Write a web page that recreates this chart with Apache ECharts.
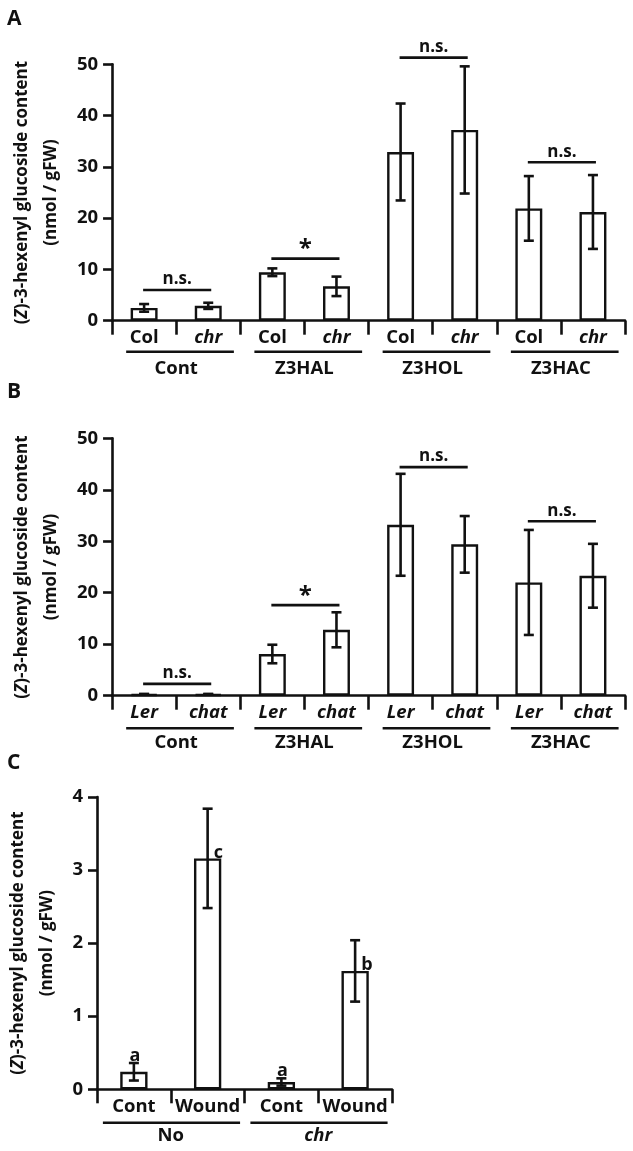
<!DOCTYPE html>
<html>
<head>
<meta charset="utf-8">
<script src="https://cdn.jsdelivr.net/npm/echarts@6/dist/echarts.min.js"></script>
<style>html,body{margin:0;padding:0;background:#fff;}#c{width:633px;height:1151px;}</style>
</head>
<body>
<div id="c"></div>
<script>
// ---------- DATA ----------
const catsA = ['Col', 'chr', 'Col', 'chr', 'Col', 'chr', 'Col', 'chr'];
const groupsA = ['Cont', 'Z3HAL', 'Z3HOL', 'Z3HAC'];
const meanA = [2.5, 2.9, 9.45, 6.7, 32.9, 37.2, 21.9, 21.2];
const errA = [0.75, 0.6, 0.75, 1.9, 9.45, 12.4, 6.3, 7.2];
const sigA = [[0, 1, 6.0], [2, 3, 12.1], [4, 5, 51.3], [6, 7, 30.9]];
const sigTextA = ['n.s.', '*', 'n.s.', 'n.s.'];

const catsB = ['Ler', 'chat', 'Ler', 'chat', 'Ler', 'chat', 'Ler', 'chat'];
const groupsB = ['Cont', 'Z3HAL', 'Z3HOL', 'Z3HAC'];
const meanB = [0.3, 0.3, 8.1, 12.8, 33.2, 29.4, 22.0, 23.3];
const errB = [0.05, 0.05, 1.8, 3.4, 9.9, 5.5, 10.2, 6.2];
const sigB = [[0, 1, 2.3], [2, 3, 17.6], [4, 5, 44.4], [6, 7, 33.9]];
const sigTextB = ['n.s.', '*', 'n.s.', 'n.s.'];

const catsC = ['Cont', 'Wound', 'Cont', 'Wound'];
const groupsC = ['No', 'chr'];
const meanC = [0.24, 3.16, 0.10, 1.62];
const errC = [0.12, 0.68, 0.05, 0.42];
const lettersC = ['a', 'c', 'a', 'b'];

const yTicksAB = [0, 10, 20, 30, 40, 50];
const yTicksC = [0, 1, 2, 3, 4];

const italicWords = new Set(['chr', 'chat', 'Ler']);

// ---------- STYLE ----------
const FONT = '"Open Sans", "Noto Sans", sans-serif';
const INK = '#111';
const TICKFS = 18.5;

function catLabel(v) { return italicWords.has(v) ? '{i|' + v + '}' : v; }
const richI = { i: { fontStyle: 'italic', fontWeight: 'bold', fontSize: TICKFS, fontFamily: FONT, color: INK } };

const grids = [
  { left: 97, top: 64.3, width: 528, height: 256.4 },
  { left: 97, top: 438.3, width: 528, height: 257.4 },
  { left: 97, top: 797, width: 295, height: 292.3 }
];

function mainX(gi, cats) {
  return {
    type: 'category', gridIndex: gi, data: cats, position: 'bottom',
    axisLine: { show: true, lineStyle: { color: INK, width: 2.6 } },
    axisTick: { show: true, length: 14, lineStyle: { color: INK, width: 2.6 } },
    axisLabel: { margin: 8, fontSize: TICKFS, fontWeight: 'bold', fontFamily: FONT, color: INK, formatter: catLabel, rich: richI, interval: 0 },
    splitLine: { show: false }
  };
}
function groupX(gi, groups, margin) {
  return {
    type: 'category', gridIndex: gi, data: groups, position: 'bottom',
    axisLine: { show: false }, axisTick: { show: false },
    axisLabel: { margin: margin, fontSize: TICKFS, fontWeight: 'bold', fontFamily: FONT, color: INK, formatter: catLabel, rich: richI, interval: 0 },
    splitLine: { show: false }
  };
}
function mainY(gi, ticks) {
  return {
    type: 'value', gridIndex: gi, min: ticks[0], max: ticks[ticks.length - 1], interval: ticks[1] - ticks[0],
    axisLine: { show: true, lineStyle: { color: INK, width: 2.6 } },
    axisTick: { show: true, length: 9, lineStyle: { color: INK, width: 2.6 } },
    axisLabel: { margin: 14, fontSize: TICKFS, fontWeight: 'bold', fontFamily: FONT, color: INK },
    splitLine: { show: false },
    name: '({i|Z})-3-hexenyl glucoside content\n(nmol / gFW)',
    nameLocation: 'middle', nameRotate: 90, nameGap: 35,
    nameTextStyle: {
      fontSize: 17, fontWeight: 'bold', fontFamily: FONT, color: INK, lineHeight: 29,
      rich: { i: { fontStyle: 'italic', fontWeight: 'bold', fontSize: 17, fontFamily: FONT, color: INK, lineHeight: 29 } }
    }
  };
}

function barSeries(xi, yi, mean, bw) {
  return {
    type: 'bar', xAxisIndex: xi, yAxisIndex: yi, data: mean, barWidth: bw,
    itemStyle: { color: '#fff', borderColor: INK, borderWidth: 2.4 }, silent: true
  };
}
function errSeries(xi, yi, mean, err) {
  return {
    type: 'custom', xAxisIndex: xi, yAxisIndex: yi, silent: true, z: 5,
    data: mean.map((m, i) => [i, m - err[i], m + err[i]]),
    encode: { x: 0, y: [1, 2] },
    renderItem: function (params, api) {
      const x = api.value(0);
      const lo = api.coord([x, api.value(1)]);
      const hi = api.coord([x, api.value(2)]);
      const w = 5;
      const st = { stroke: INK, lineWidth: 2.6 };
      return {
        type: 'group', children: [
          { type: 'line', shape: { x1: lo[0], y1: lo[1], x2: hi[0], y2: hi[1] }, style: st },
          { type: 'line', shape: { x1: hi[0] - w, y1: hi[1], x2: hi[0] + w, y2: hi[1] }, style: st },
          { type: 'line', shape: { x1: lo[0] - w, y1: lo[1], x2: lo[0] + w, y2: lo[1] }, style: st }
        ]
      };
    }
  };
}
function sigSeries(xi, yi, sig, texts) {
  return {
    type: 'custom', xAxisIndex: xi, yAxisIndex: yi, silent: true, z: 5,
    data: sig,
    encode: { x: [0, 1], y: 2 },
    renderItem: function (params, api) {
      const a = api.coord([api.value(0), api.value(2)]);
      const b = api.coord([api.value(1), api.value(2)]);
      const t = texts[params.dataIndex];
      const star = t === '*';
      return {
        type: 'group', children: [
          { type: 'line', shape: { x1: a[0] - 1, y1: a[1], x2: b[0] + 3, y2: b[1] }, style: { stroke: INK, lineWidth: 2.6 } },
          { type: 'text', style: { text: t, x: (a[0] + b[0]) / 2 + 1, y: a[1] - (star ? -3 : 2), align: 'center', verticalAlign: 'bottom', fontSize: star ? 24 : 17, fontWeight: 'bold', fontFamily: FONT, fill: INK } }
        ]
      };
    }
  };
}
function underlineSeries(xi, yi, nGroups, per, offset, insetL, insetR) {
  const d = [];
  for (let g = 0; g < nGroups; g++) d.push([g * per, g * per + per - 1, 0]);
  return {
    type: 'custom', xAxisIndex: xi, yAxisIndex: yi, silent: true,
    data: d, encode: { x: [0, 1], y: 2 },
    renderItem: function (params, api) {
      const a = api.coord([api.value(0), 0]);
      const b = api.coord([api.value(1), 0]);
      const bw = api.size([1, 0])[0];
      const y = a[1] + offset;
      return { type: 'line', shape: { x1: a[0] - bw / 2 + bw * insetL, y1: y, x2: b[0] + bw / 2 - bw * insetR, y2: y }, style: { stroke: INK, lineWidth: 2.4 } };
    }
  };
}
function letterSeries(xi, yi, mean, err, letters) {
  return {
    type: 'custom', xAxisIndex: xi, yAxisIndex: yi, silent: true, z: 6,
    data: mean.map((m, i) => [i, m, m + err[i]]),
    encode: { x: 0, y: [1, 2] },
    renderItem: function (params, api) {
      const i = api.value(0);
      const big = err[params.dataIndex] > 0.2;
      let style;
      if (big) {
        const p = api.coord([i, api.value(1)]);
        style = { text: letters[params.dataIndex], x: p[0] + 6, y: p[1] + 3, align: 'left', verticalAlign: 'bottom' };
      } else {
        const p = api.coord([i, api.value(2)]);
        style = { text: letters[params.dataIndex], x: p[0] + 1, y: p[1] + 2, align: 'center', verticalAlign: 'bottom' };
      }
      style.fontSize = 18; style.fontWeight = 'bold'; style.fontFamily = FONT; style.fill = INK;
      return { type: 'text', style: style };
    }
  };
}

const option = {
  animation: false,
  backgroundColor: '#fff',
  grid: grids,
  xAxis: [
    mainX(0, catsA), groupX(0, groupsA, 39),
    mainX(1, catsB), groupX(1, groupsB, 38),
    mainX(2, catsC), groupX(2, groupsC, 37)
  ],
  yAxis: [mainY(0, yTicksAB), mainY(1, yTicksAB), mainY(2, yTicksC)],
  series: [
    barSeries(0, 0, meanA, '42%'), errSeries(0, 0, meanA, errA), sigSeries(0, 0, sigA, sigTextA), underlineSeries(0, 0, 4, 2, 31, 0.22, 0.10),
    barSeries(2, 1, meanB, '42%'), errSeries(2, 1, meanB, errB), sigSeries(2, 1, sigB, sigTextB), underlineSeries(2, 1, 4, 2, 32.6, 0.22, 0.10),
    barSeries(4, 2, meanC, '37%'), errSeries(4, 2, meanC, errC), letterSeries(4, 2, meanC, errC, lettersC), underlineSeries(4, 2, 2, 2, 33.4, 0.08, 0.06)
  ],
  graphic: [
    { type: 'text', left: 7, top: 9, style: { text: 'A', fontSize: 21, fontWeight: 'bold', fontFamily: FONT, fill: INK } },
    { type: 'text', left: 7, top: 382, style: { text: 'B', fontSize: 21, fontWeight: 'bold', fontFamily: FONT, fill: INK } },
    { type: 'text', left: 7, top: 753, style: { text: 'C', fontSize: 21, fontWeight: 'bold', fontFamily: FONT, fill: INK } }
  ]
};
const chart = echarts.init(document.getElementById('c'));
chart.setOption(option);
</script>
</body>
</html>
